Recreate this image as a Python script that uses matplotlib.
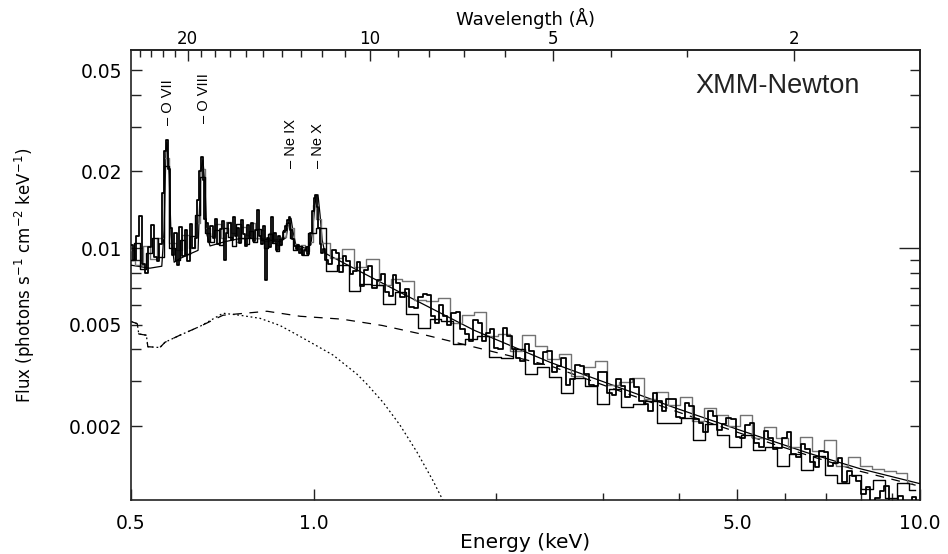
import numpy as np
import matplotlib
matplotlib.use("Agg")
import matplotlib.pyplot as plt
from matplotlib.ticker import FixedLocator, FixedFormatter, NullFormatter

# ---------------- data (flux values in units of 1e-3 photons/s/cm2/keV) ----------------
HC = 12.398  # keV * Angstrom

# EPIC-pn spectrum
pn_low_E = [0.500, 0.506, 0.512, 0.518, 0.524, 0.530, 0.536, 0.542, 0.548, 0.554,
            0.560, 0.565, 0.569, 0.573, 0.577, 0.581, 0.586, 0.592, 0.598, 0.604,
            0.610, 0.616, 0.622, 0.628, 0.634, 0.640, 0.646, 0.650, 0.654, 0.658,
            0.662, 0.667, 0.673, 0.679, 0.685, 0.691, 0.697, 0.703, 0.709, 0.715,
            0.721, 0.727, 0.733, 0.739, 0.745, 0.751, 0.757, 0.763, 0.769, 0.775,
            0.781, 0.787, 0.793, 0.799, 0.805, 0.811, 0.817, 0.823, 0.829, 0.835,
            0.841, 0.847, 0.853, 0.859, 0.865, 0.871, 0.877, 0.883, 0.889, 0.895,
            0.901, 0.907, 0.913, 0.919, 0.925, 0.931, 0.937, 0.943, 0.949, 0.955,
            0.961, 0.967, 0.973, 0.979, 0.985, 0.991, 0.997, 1.003, 1.009, 1.015,
            1.021, 1.027, 1.033, 1.040]
pn_low_F = [10.3, 9.0, 11.2, 13.4, 8.7, 8.0, 10.1, 12.3, 9.2, 8.9,
            10.4, 16.5, 24.0, 26.6, 20.5, 12.0, 9.4, 11.5, 8.6, 12.1,
            9.3, 11.8, 8.9, 12.4, 10.0, 11.0, 15.5, 20.0, 22.8, 18.5,
            13.0, 12.6, 10.6, 12.2, 11.0, 13.0, 10.4, 11.9, 12.8, 9.0,
            11.5, 12.5, 10.8, 13.3, 11.2, 12.0, 10.5, 12.9, 11.4, 10.2,
            12.3, 11.0, 12.6, 10.7, 11.8, 14.1, 11.2, 10.4, 12.2, 7.5,
            11.0, 10.1, 13.2, 10.6, 11.5, 9.8, 11.2, 10.3, 10.9, 11.6,
            12.2, 12.9, 13.2, 11.8, 10.9, 10.2, 9.9, 10.3, 9.6, 10.0,
            9.4, 9.8, 10.1, 9.5, 10.3, 11.5, 14.0, 15.8, 16.2, 14.5,
            12.0, 10.4, 9.6, 9.9]
pn_high_E = [1.05, 1.065, 1.08, 1.095, 1.11, 1.125, 1.14, 1.155, 1.17, 1.185,
             1.20, 1.22, 1.24, 1.26, 1.28, 1.30, 1.32, 1.34, 1.36, 1.38,
             1.40, 1.425, 1.45, 1.475, 1.50, 1.525, 1.55, 1.575, 1.60, 1.625,
             1.65, 1.675, 1.70, 1.73, 1.76, 1.79, 1.82, 1.85, 1.88, 1.91,
             1.94, 1.97, 2.00, 2.035, 2.07, 2.105, 2.14, 2.175, 2.21, 2.25,
             2.29, 2.33, 2.37, 2.41, 2.45, 2.495, 2.54, 2.585, 2.63, 2.675,
             2.72, 2.77, 2.82, 2.87, 2.92, 2.97, 3.02, 3.075, 3.13, 3.185,
             3.24, 3.295, 3.35, 3.41, 3.47, 3.53, 3.59, 3.655, 3.72, 3.785,
             3.85, 3.92, 3.99, 4.06, 4.13, 4.205, 4.28, 4.355, 4.43, 4.51,
             4.59, 4.67, 4.75, 4.835, 4.92, 5.01, 5.10, 5.19, 5.28, 5.375,
             5.47, 5.57, 5.67, 5.77, 5.87, 5.975, 6.08, 6.19, 6.30, 6.415,
             6.53, 6.645, 6.76, 6.88, 7.00, 7.125, 7.25, 7.38, 7.51, 7.645,
             7.78, 7.92, 8.06, 8.205, 8.35, 8.50, 8.65, 8.805, 8.96, 9.12,
             9.28, 9.445, 9.61, 9.78, 9.95]
pn_high_F = [9.02, 8.7, 9.80, 9.6, 8.05, 9.3, 8.90, 7.9, 8.12, 8.8,
             7.07, 8.2, 8.49, 7.0, 7.49, 7.9, 6.72, 6.5, 7.84, 7.3,
             6.44, 6.9, 5.85, 5.8, 6.41, 6.6, 6.56, 5.4, 5.08, 6.0,
             5.43, 5.0, 5.55, 5.6, 4.83, 4.6, 4.30, 5.2, 5.08, 4.3,
             4.65, 4.8, 4.06, 4.0, 4.85, 4.5, 4.00, 3.7, 3.59, 4.2,
             3.96, 3.5, 3.50, 3.9, 3.96, 3.25, 3.43, 3.7, 2.91, 3.05,
             3.48, 3.45, 3.21, 2.9, 2.88, 3.25, 3.27, 2.7, 2.65, 3.05,
             2.88, 2.6, 3.07, 2.85, 2.52, 2.45, 2.30, 2.7, 2.50, 2.3,
             2.55, 2.55, 2.17, 2.15, 2.47, 2.4, 2.14, 2.05, 1.89, 2.3,
             2.19, 1.93, 2.03, 2.15, 2.13, 1.82, 1.80, 2.02, 2.06, 1.72,
             1.65, 1.92, 1.80, 1.63, 1.64, 1.8, 1.89, 1.55, 1.51, 1.7,
             1.62, 1.45, 1.38, 1.6, 1.58, 1.4, 1.43, 1.5, 1.21, 1.33,
             1.27, 1.22, 1.08, 1.15, 0.98, 1.04, 1.11, 1.16, 0.95, 0.98,
             1.06, 1.02, 0.97, 1.05, 0.99]

# MOS1 spectrum
mos1_E = [0.500, 0.512, 0.524, 0.536, 0.548, 0.560, 0.572, 0.584, 0.596, 0.608,
          0.620, 0.632, 0.644, 0.656, 0.668, 0.680, 0.692, 0.704, 0.716, 0.728,
          0.740, 0.752, 0.764, 0.776, 0.788, 0.800, 0.812, 0.824, 0.836, 0.848,
          0.860, 0.872, 0.884, 0.896, 0.908, 0.920, 0.932, 0.944,
          0.968, 0.99, 1.03, 1.07, 1.12, 1.17, 1.22, 1.27, 1.33, 1.39,
          1.45, 1.52, 1.59, 1.66, 1.74, 1.82, 1.90, 1.99, 2.08, 2.18,
          2.28, 2.39, 2.50, 2.62, 2.74, 2.87, 3.00, 3.14, 3.29, 3.44,
          3.60, 3.77, 3.95, 4.13, 4.32, 4.52, 4.73, 4.95, 5.18, 5.42,
          5.67, 5.93, 6.21, 6.50, 6.80, 7.12, 7.45, 7.80, 8.16, 8.54,
          8.94, 9.36, 9.80]
mos1_F = [9.0, 10.5, 8.3, 9.6, 11.0, 9.2, 21.0, 10.0, 9.0, 10.8,
          9.5, 11.2, 13.5, 19.0, 11.5, 10.6, 11.8, 10.3, 12.0, 11.1,
          10.2, 12.4, 11.0, 10.4, 11.7, 10.6, 11.9, 10.8, 10.0, 11.4,
          10.5, 9.7, 10.9, 11.8, 12.6, 11.0, 9.8, 10.2,
          9.4, 11.5, 12.0, 8.12, 8.55, 6.79, 7.22, 7.16, 6.05, 6.75,
          5.50, 4.85, 5.26, 5.19, 4.21, 4.39, 4.52, 3.72, 3.70, 4.01,
          3.21, 3.42, 3.12, 2.69, 3.08, 2.87, 2.45, 2.79, 2.38, 2.44,
          2.52, 2.05, 2.06, 2.15, 1.77, 2.03, 1.84, 1.66, 1.85, 1.61,
          1.65, 1.40, 1.56, 1.35, 1.52, 1.28, 1.20, 1.28, 1.13, 1.23,
          1.04, 1.20, 1.12]

# MOS2 spectrum
mos2_E = [0.500, 0.515, 0.530, 0.545, 0.560, 0.572, 0.585, 0.600, 0.615, 0.630,
          0.645, 0.655, 0.668, 0.682, 0.696, 0.710, 0.724, 0.738, 0.752, 0.766,
          0.780, 0.794, 0.808, 0.822, 0.836, 0.850, 0.864, 0.878, 0.892, 0.906,
          0.920, 0.934, 0.948, 0.962, 0.976, 0.990, 1.004, 1.018,
          1.04, 1.09, 1.14, 1.19, 1.25, 1.31, 1.37, 1.43, 1.50, 1.57,
          1.64, 1.72, 1.80, 1.88, 1.97, 2.06, 2.16, 2.26, 2.37, 2.48,
          2.60, 2.72, 2.85, 2.98, 3.12, 3.27, 3.42, 3.58, 3.75, 3.93,
          4.11, 4.30, 4.50, 4.71, 4.93, 5.16, 5.40, 5.65, 5.91, 6.19,
          6.48, 6.78, 7.10, 7.43, 7.78, 8.14, 8.52, 8.92, 9.34, 9.70]
mos2_F = [9.8, 8.6, 10.2, 9.1, 11.0, 22.5, 10.5, 9.8, 11.3, 10.0,
          12.5, 20.5, 12.0, 11.2, 12.4, 11.0, 12.7, 11.5, 10.6, 12.1,
          11.3, 12.5, 11.0, 11.8, 10.7, 11.5, 10.9, 10.3, 11.1, 12.4,
          12.0, 10.4, 9.9, 10.3, 9.7, 10.6, 14.8, 13.0,
          10.48, 9.11, 9.89, 8.43, 9.08, 7.19, 7.53, 7.41, 6.27, 6.19,
          6.38, 5.10, 5.44, 5.63, 4.52, 4.58, 3.95, 4.55, 4.14, 3.67,
          3.83, 3.14, 3.41, 3.61, 2.91, 2.97, 3.08, 2.56, 2.71, 2.43,
          2.61, 2.10, 2.36, 2.22, 2.01, 2.22, 1.80, 1.98, 1.80, 1.65,
          1.82, 1.59, 1.76, 1.39, 1.51, 1.40, 1.36, 1.33, 1.31, 1.19]

# total model (with emission lines)
model_E = [0.500, 0.537, 0.562, 0.567, 0.571, 0.573, 0.578, 0.582, 0.589, 0.602,
           0.626, 0.645, 0.647, 0.652, 0.657, 0.662, 0.667, 0.675, 0.714, 0.756,
           0.816, 0.880, 0.901, 0.911, 0.918, 0.925, 0.935, 0.968, 0.990, 1.002,
           1.009, 1.017, 1.025, 1.033, 1.044, 1.148, 1.388, 1.839, 2.455, 3.93,
           5.07, 6.51, 7.96, 10.0]
model_F = [8.57, 8.34, 8.49, 11.8, 24.3, 26.1, 19.4, 11.3, 8.8, 9.1,
           9.5, 9.8, 12.3, 20.3, 22.2, 17.7, 11.3, 10.2, 10.6, 10.9,
           10.9, 10.6, 11.0, 12.9, 13.1, 11.6, 10.3, 10.0, 10.3, 13.5,
           16.0, 16.2, 13.5, 10.8, 9.56, 8.49, 6.71, 4.76, 3.56, 2.366,
           1.921, 1.573, 1.361, 1.188]

# power-law component (dashed)
pl_E = [0.500, 0.512, 0.515, 0.530, 0.533, 0.558, 0.569, 0.602, 0.650, 0.709,
        0.771, 0.838, 0.950, 1.114, 1.297, 1.510, 1.744, 2.455, 3.93, 5.07,
        6.51, 7.96, 10.0]
pl_F = [5.15, 5.05, 4.60, 4.55, 4.10, 4.07, 4.27, 4.55, 4.93, 5.45,
        5.55, 5.65, 5.40, 5.26, 4.97, 4.59, 4.22, 3.45, 2.30, 1.87,
        1.54, 1.33, 1.16]

# thermal component (dotted)
th_E = [0.500, 0.512, 0.515, 0.530, 0.533, 0.558, 0.569, 0.602, 0.650, 0.709,
        0.756, 0.816, 0.880, 0.950, 1.000, 1.077, 1.179, 1.225, 1.302, 1.388,
        1.481, 1.574, 1.635, 1.70]
th_F = [5.15, 5.05, 4.60, 4.55, 4.10, 4.07, 4.27, 4.55, 4.93, 5.55,
        5.45, 5.30, 4.97, 4.50, 4.20, 3.80, 3.20, 2.92, 2.48, 2.02,
        1.58, 1.22, 1.02, 0.85]

line_names = ["O VII", "O VIII", "Ne IX", "Ne X"]
line_E = [0.575, 0.660, 0.918, 1.017]
line_label_y = [0.0305, 0.0310, 0.0207, 0.0207]

x_major = [0.5, 1.0, 5.0, 10.0]
x_major_labels = ["0.5", "1.0", "5.0", "10.0"]
x_minor = [2, 3, 4, 6, 7, 8, 9]
y_major = [0.002, 0.005, 0.01, 0.02, 0.05]
y_major_labels = ["0.002", "0.005", "0.01", "0.02", "0.05"]
y_minor = [0.003, 0.004, 0.006, 0.007, 0.008, 0.009, 0.03, 0.04]
wl_major = [20, 10, 5, 2]
wl_major_labels = ["20", "10", "5", "2"]
wl_minor = [3, 4, 6, 7, 8, 9, 11, 12, 13, 14, 15, 16, 17, 18, 19, 21, 22, 23, 24]

UNIT = 1e-3

# ---------------- figure ----------------
fig = plt.figure(figsize=(9.48, 5.54), dpi=100)
ax = fig.add_axes([131 / 948, 54 / 554, 789 / 948, 450 / 554])
ax.set_xscale("log")
ax.set_yscale("log")
ax.set_xlim(0.5, 10.0)
ax.set_ylim(1.025e-3, 0.060)

ax.plot(th_E, np.array(th_F) * UNIT, color="k", lw=0.9, dashes=(1.4, 2.2), zorder=2)
ax.plot(pl_E, np.array(pl_F) * UNIT, color="k", lw=0.9, dashes=(7, 6), zorder=2)
ax.plot(model_E, np.array(model_F) * UNIT, color="k", lw=0.9, zorder=3)

ax.step(mos2_E, np.array(mos2_F) * UNIT, where="mid", color="0.45", lw=1.0, zorder=4)
ax.step(mos1_E, np.array(mos1_F) * UNIT, where="mid", color="k", lw=1.0, zorder=4)
ax.step(pn_low_E + pn_high_E, np.array(pn_low_F + pn_high_F) * UNIT, where="mid",
        color="k", lw=1.3, zorder=5)

# ticks on bottom/left
ax.xaxis.set_major_locator(FixedLocator(x_major))
ax.xaxis.set_major_formatter(FixedFormatter(x_major_labels))
ax.xaxis.set_minor_locator(FixedLocator(x_minor))
ax.xaxis.set_minor_formatter(NullFormatter())
ax.yaxis.set_major_locator(FixedLocator(y_major))
ax.yaxis.set_major_formatter(FixedFormatter(y_major_labels))
ax.yaxis.set_minor_locator(FixedLocator(y_minor))
ax.yaxis.set_minor_formatter(NullFormatter())
ax.tick_params(which="both", direction="in", top=False, right=False, width=1.0, color="#222")
ax.tick_params(axis="x", which="major", length=8, labelsize=13.5, pad=10)
ax.tick_params(axis="x", which="minor", length=5)
ax.tick_params(axis="y", which="major", length=8, labelsize=13.5, pad=6.5)
ax.tick_params(axis="y", which="minor", length=7)

for sp in ax.spines.values():
    sp.set_linewidth(1.2)
    sp.set_color("#222")


def e2l(x):
    x = np.asarray(x, dtype=float)
    with np.errstate(divide="ignore", invalid="ignore"):
        return HC / x


secx = ax.secondary_xaxis("top", functions=(e2l, e2l))
secx.xaxis.set_major_locator(FixedLocator(wl_major))
secx.xaxis.set_major_formatter(FixedFormatter(wl_major_labels))
secx.xaxis.set_minor_locator(FixedLocator(wl_minor))
secx.xaxis.set_minor_formatter(NullFormatter())
secx.tick_params(which="both", direction="in", width=1.0, color="#222")
secx.tick_params(which="major", length=8, labelsize=12, pad=1.5)
secx.tick_params(which="minor", length=5)
secx.spines["top"].set_linewidth(1.2)
secx.spines["top"].set_color("#222")
secx.set_xlabel("Wavelength (Å)", fontsize=13)
secx.xaxis.set_label_coords(0.5, 1 + 25 / 450, transform=ax.transAxes)

secy = ax.secondary_yaxis("right")
secy.yaxis.set_major_locator(FixedLocator([0.01]))
secy.yaxis.set_major_formatter(NullFormatter())
secy.yaxis.set_minor_locator(FixedLocator([0.002, 0.003, 0.004, 0.005, 0.006, 0.007,
                                           0.008, 0.009, 0.02, 0.03, 0.04, 0.05]))
secy.yaxis.set_minor_formatter(NullFormatter())
secy.tick_params(which="both", direction="in", width=1.0, color="#222")
secy.tick_params(which="major", length=15)
secy.tick_params(which="minor", length=7)
secy.spines["right"].set_linewidth(1.2)
secy.spines["right"].set_color("#222")

ax.set_xlabel("Energy (keV)", fontsize=14.5)
ax.xaxis.set_label_coords(0.5, -33 / 450)
ax.set_ylabel("Flux (photons s$^{-1}$ cm$^{-2}$ keV$^{-1}$)", fontsize=12)
ax.yaxis.set_label_coords(-94 / 789, 0.5)

for name, e, yl in zip(line_names, line_E, line_label_y):
    ax.text(e, yl, "– " + name, rotation=90, ha="center", va="bottom",
            fontsize=10.5, family="Liberation Sans", zorder=6)

ax.text(0.8194, 0.92, "XMM-Newton", transform=ax.transAxes, ha="center", va="center",
        fontsize=19.5, family="Liberation Sans", color="#222")

fig.savefig("out.png", dpi=100)
